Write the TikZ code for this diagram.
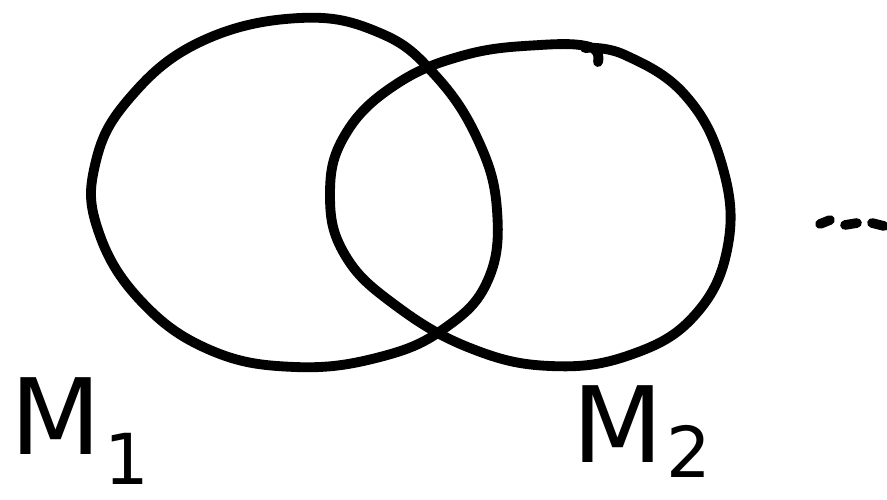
\documentclass[tikz,border=0pt]{standalone}
\usepackage{fontspec}
\setsansfont{DejaVu Sans}
\begin{document}
\begin{tikzpicture}[x=0.02cm,y=-0.02cm,
  loop/.style={line width=5.6pt,line cap=round,line join=round},
  lab/.style={inner sep=0pt,font=\sffamily\fontsize{60}{60}\selectfont},
  dotmark/.style={line width=5.5pt,line cap=round}]
\useasboundingbox (0,0) rectangle (887,500);
% left loop
\draw[loop] plot[smooth cycle,tension=0.7] coordinates{
 (300,18) (380,33) (435,75) (478,140) (497,210) (488,280) (445,328)
 (380,357) (295,367) (210,350) (140,300) (98,230) (95,165) (128,100) (200,42)};
% right loop
\draw[loop] plot[smooth,tension=0.7] coordinates{
 (598,62) (590,47) (540,45) (465,55) (395,85) (345,135) (330,195) (345,255)
 (395,305) (470,348) (550,366) (630,355) (695,315) (728,245) (722,165)
 (685,95) (625,55) (585,48)};
\node[lab,anchor=base west] (m1) at (10,455) {M\kern2pt\raisebox{-0.28em}{\fontsize{40}{40}\selectfont 1}};
\node[lab,anchor=base west] (m2) at (572,462) {M\kern2pt\raisebox{-0.15em}{\fontsize{40}{40}\selectfont 2}};
\coordinate (d1a) at (820,224); \coordinate (d1b) at (830,220);
\coordinate (d2a) at (845,225); \coordinate (d2b) at (857,223);
\coordinate (d3a) at (872,223); \coordinate (d3b) at (884,226);
\draw[dotmark] (d1a) -- (d1b);
\draw[dotmark] (d2a) -- (d2b);
\draw[dotmark] (d3a) -- (d3b);
\end{tikzpicture}
\end{document}
